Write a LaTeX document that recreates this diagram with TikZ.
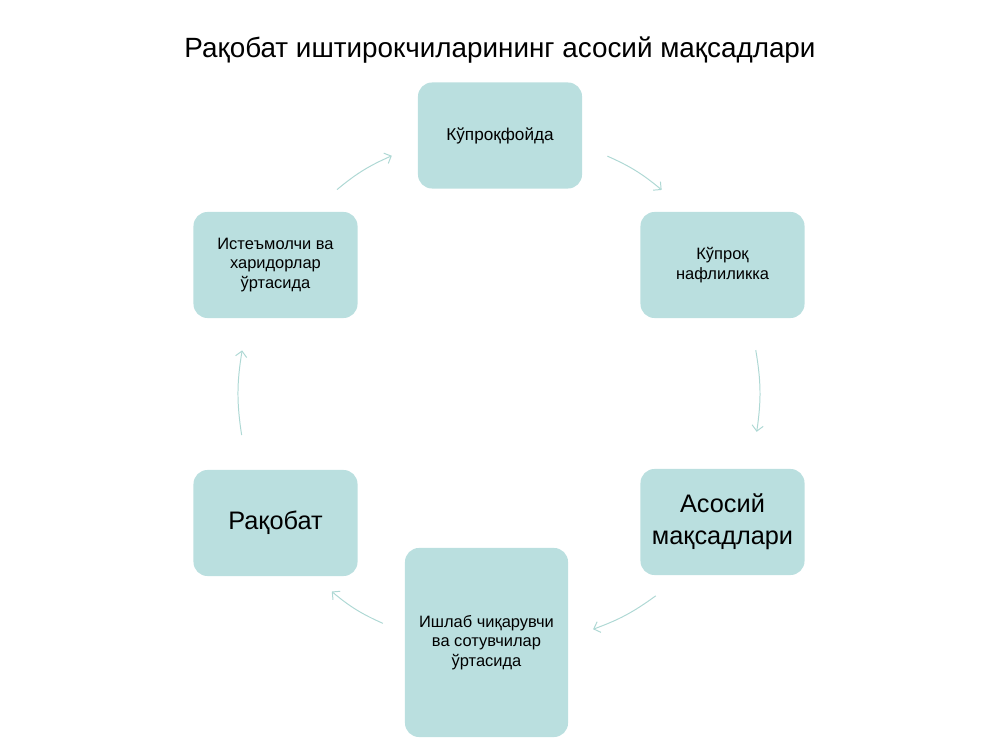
\documentclass[tikz,border=0pt]{standalone}
\usepackage{fontspec}
\setmainfont{Liberation Sans}
\usepackage{tikz}
\usepackage{xcolor}
\usetikzlibrary{arrows.meta}
\definecolor{boxfill}{HTML}{BADFDF}
\definecolor{ringcol}{HTML}{AED8D4}

\begin{document}
\begin{tikzpicture}[x=0.025cm, y=0.025cm,
    goal/.style={fill=boxfill, rounded corners=0.35cm, minimum width=4.1cm, minimum height=2.65cm, align=center, inner sep=2pt, font=\fontsize{11.7}{13.8}\selectfont},
    biggoal/.style={goal, font=\fontsize{18}{22.5}\selectfont},
    ring/.style={draw=ringcol, line width=0.7pt, -{Straight Barb[length=4pt, width=8pt]}}]
                \useasboundingbox (0,0) rectangle (1000,750);
                \node[font=\fontsize{19.8}{23}\selectfont] (title) at (500,700) {Рақобат иштирокчиларининг асосий мақсадлари};
                \node[goal, font=\fontsize{12.2}{14}\selectfont] (top) at (500,614.5) {Кўпроқфойда};
                \node[goal] (rt) at (722.5,485) {Кўпроқ\\ нафлиликка};
                \node[biggoal] (rb) at (722.5,228) {Асосий\\ мақсадлари};
                \node[goal, minimum width=4.075cm, minimum height=4.725cm] (bot) at (486.5,107.5) {Ишлаб чиқарувчи\\ ва сотувчилар\\ ўртасида};
                \node[biggoal] (lb) at (275.5,227) {Рақобат};
                \node[goal] (lt) at (275.5,485) {Истеъмолчи ва\\ харидорлар\\ ўртасида};
                % points on the ring between the boxes
                \path (lt.center) to[bend left=30] coordinate[pos=0.35] (a1s) coordinate[pos=0.6] (a1e) (top.center);
                \path (top.center) to[bend left=30] coordinate[pos=0.4] (a2s) coordinate[pos=0.65] (a2e) (rt.center);
                \path (rt.center) to[bend left=30] coordinate[pos=0.33] (a3s) coordinate[pos=0.65] (a3e) (rb.center);
                \path (rb.center) to[bend left=30] coordinate[pos=0.35] (a4s) coordinate[pos=0.62] (a4e) (bot.center);
                \path (bot.center) to[bend left=30] coordinate[pos=0.41] (a5s) coordinate[pos=0.66] (a5e) (lb.center);
                \path (lb.center) to[bend left=30] coordinate[pos=0.34] (a6s) coordinate[pos=0.67] (a6e) (lt.center);
                \draw[ring] (a1s) to[bend left=8] (a1e);
                \draw[ring] (a2s) to[bend left=8] (a2e);
                \draw[ring] (a3s) to[bend left=9] (a3e);
                \draw[ring] (a4s) to[bend left=8] (a4e);
                \draw[ring] (a5s) to[bend left=8] (a5e);
                \draw[ring] (a6s) to[bend left=9] (a6e);
            \end{tikzpicture}
\end{document}
